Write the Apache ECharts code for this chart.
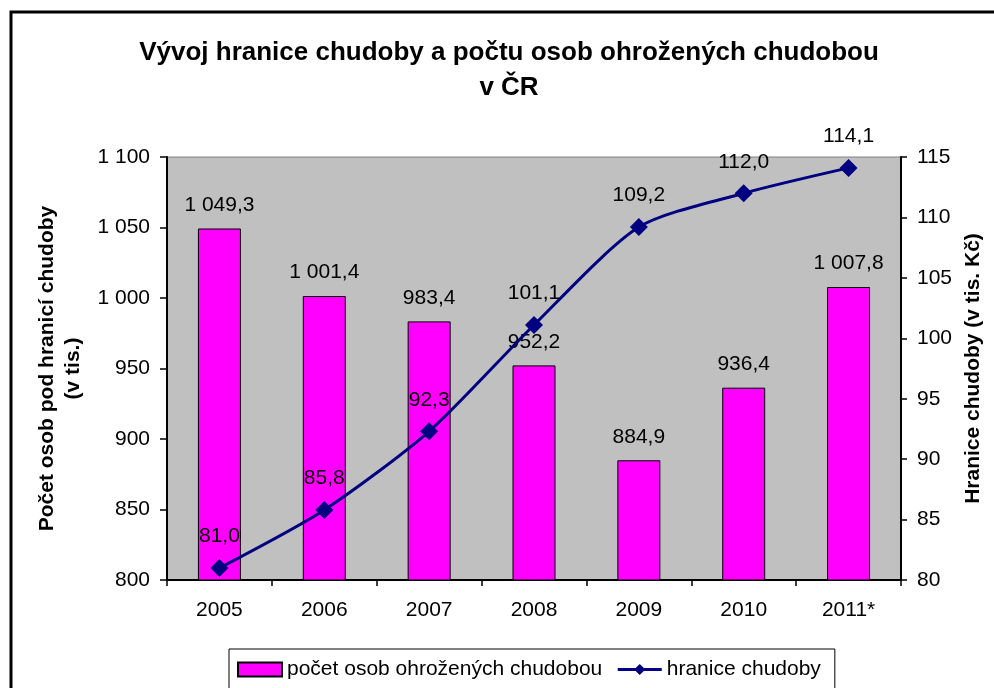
<!DOCTYPE html>
<html>
<head>
<meta charset="utf-8">
<script src="https://cdn.jsdelivr.net/npm/echarts@6/dist/echarts.min.js"></script>
<style>html,body{margin:0;padding:0;background:#fff}#c{width:994px;height:688px}</style>
</head>
<body>
<div id="c"></div>
<script>
var categories = ['2005', '2006', '2007', '2008', '2009', '2010', '2011*'];
var personsValues = [1049.3, 1001.4, 983.4, 952.2, 884.9, 936.4, 1007.8];
var povertyLineValues = [81.0, 85.8, 92.3, 101.1, 109.2, 112.0, 114.1];
var seriesNames = ['počet osob ohrožených chudobou', 'hranice chudoby'];

function fmt(v, dec) {
  var s = v.toFixed(dec);
  var parts = s.split('.');
  var ip = parts[0].replace(/\B(?=(\d{3})+(?!\d))/g, ' ');
  return parts.length > 1 ? ip + ',' + parts[1] : ip;
}

var FONT = 'Liberation Sans';
var chart = echarts.init(document.getElementById('c'), null, {renderer: 'canvas'});
chart.setOption({
  animation: false,
  textStyle: {fontFamily: FONT},
  title: {
    text: 'Vývoj hranice chudoby a počtu osob ohrožených chudobou\nv ČR',
    left: 504, top: 30, textAlign: 'center',
    textStyle: {fontFamily: FONT, fontSize: 26, fontWeight: 'bold', color: '#000', lineHeight: 35}
  },
  graphic: [{
    type: 'rect', silent: true, z: 100,
    shape: {x: 11, y: 12, width: 1100, height: 800},
    style: {fill: null, stroke: '#000', lineWidth: 3}
  }],
  legend: {
    left: 229, top: 649,
    padding: [10, 14, 14, 8],
    itemGap: 14,
    itemWidth: 44, itemHeight: 14,
    borderColor: '#000', borderWidth: 1,
    textStyle: {fontFamily: FONT, fontSize: 21, color: '#000'},
    data: [
      {name: seriesNames[0], icon: 'rect'},
      {name: seriesNames[1], lineStyle: {width: 3}}
    ]
  },
  grid: {
    left: 167, right: 93, top: 157, bottom: 108,
    show: true, backgroundColor: '#C0C0C0', borderColor: '#808080', borderWidth: 1
  },
  xAxis: {
    type: 'category', data: categories, boundaryGap: true,
    axisLine: {lineStyle: {color: '#000', width: 2}},
    axisTick: {show: true, length: 6, inside: false, lineStyle: {color: '#000', width: 1.5}},
    axisLabel: {fontFamily: FONT, fontSize: 21, color: '#000', margin: 20}
  },
  yAxis: [{
    type: 'value', min: 800, max: 1100, interval: 50,
    name: 'Počet osob pod hranicí chudoby\n(v tis.)',
    nameLocation: 'middle', nameRotate: 90, nameGap: 79,
    nameTextStyle: {fontFamily: FONT, fontSize: 21, fontWeight: 'bold', color: '#000', lineHeight: 26},
    axisLine: {show: true, lineStyle: {color: '#000', width: 2}},
    axisTick: {show: true, length: 7, lineStyle: {color: '#000', width: 1.5}},
    splitLine: {show: false},
    axisLabel: {fontFamily: FONT, fontSize: 21, color: '#000', margin: 17,
      formatter: function (v) { return fmt(v, 0); }}
  }, {
    type: 'value', min: 80, max: 115, interval: 5, position: 'right',
    name: 'Hranice chudoby (v tis. Kč)',
    nameLocation: 'middle', nameRotate: 90, nameGap: 58,
    nameTextStyle: {fontFamily: FONT, fontSize: 21, fontWeight: 'bold', color: '#000'},
    axisLine: {show: true, lineStyle: {color: '#000', width: 2}},
    axisTick: {show: true, length: 6, lineStyle: {color: '#000', width: 1.5}},
    splitLine: {show: false},
    axisLabel: {fontFamily: FONT, fontSize: 21, color: '#000', margin: 16}
  }],
  series: [{
    name: seriesNames[0], type: 'bar', yAxisIndex: 0,
    data: personsValues, barWidth: 43,
    itemStyle: {color: '#FF00FF', borderColor: '#000', borderWidth: 1},
    label: {show: true, position: 'top', distance: 13, fontFamily: FONT, fontSize: 21, color: '#000',
      formatter: function (p) { return fmt(p.value, 1); }}
  }, {
    name: seriesNames[1], type: 'line', yAxisIndex: 1,
    data: povertyLineValues, smooth: 0.25,
    symbol: 'diamond', symbolSize: 18,
    lineStyle: {color: '#000080', width: 3},
    itemStyle: {color: '#000080'},
    label: {show: true, position: 'top', distance: 12, fontFamily: FONT, fontSize: 21, color: '#000',
      formatter: function (p) { return fmt(p.value, 1); }},
    z: 3
  }]
});
</script>
</body>
</html>
